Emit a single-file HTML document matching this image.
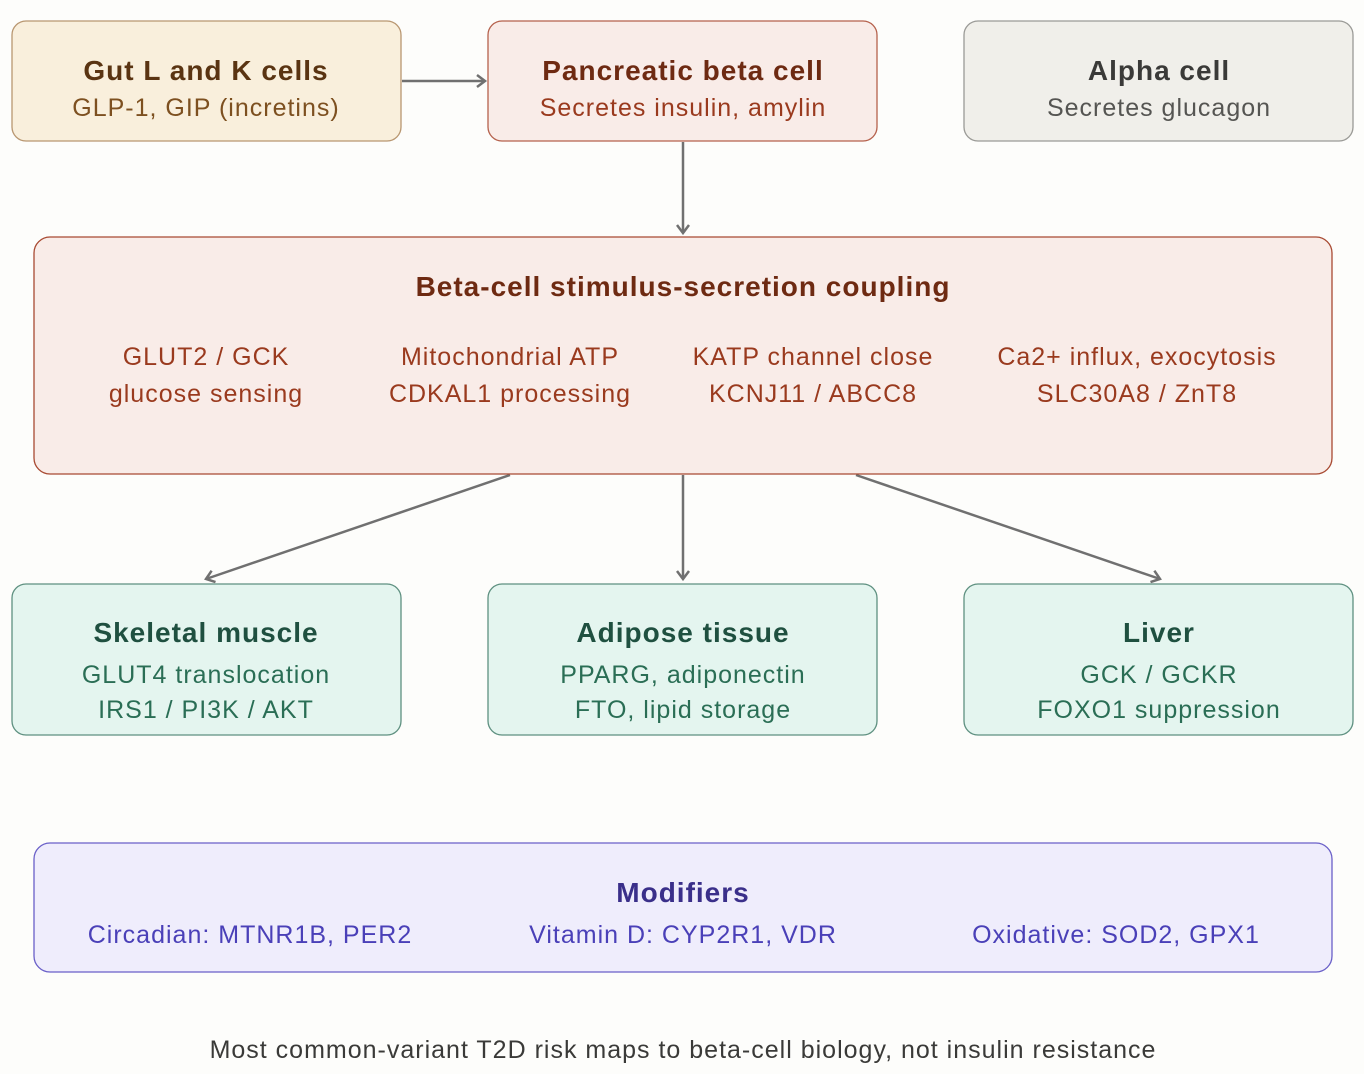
<!DOCTYPE html>
<html><head><meta charset="utf-8"><style>
html,body{margin:0;padding:0;background:#fdfdfb;}
svg{display:block;font-family:"Liberation Sans",sans-serif;}
.t{font-size:28px;font-weight:bold;text-anchor:middle;letter-spacing:1px}
.s{font-size:25px;text-anchor:middle;letter-spacing:1px}
</style></head><body>
<svg width="1364" height="1074" viewBox="0 0 1364 1074" xmlns="http://www.w3.org/2000/svg">
<defs><marker id="a" markerWidth="14" markerHeight="14" refX="10" refY="7" orient="auto" markerUnits="userSpaceOnUse"><path d="M2,1 L10,7 L2,13" fill="none" stroke="#707070" stroke-width="2.5"/></marker></defs>
<rect width="1364" height="1074" fill="#fdfdfb"/>
<rect x="12" y="21" width="389" height="120" rx="14" fill="#f9efdc" stroke="#b89670" stroke-width="1.3"/>
<text class="t" x="206" y="80" fill="#5a3412">Gut L and K cells</text>
<text class="s" x="206" y="116" fill="#7d5020">GLP-1, GIP (incretins)</text>
<rect x="488" y="21" width="389" height="120" rx="14" fill="#f9ece8" stroke="#b5614c" stroke-width="1.3"/>
<text class="t" x="683" y="80" fill="#6e2a12">Pancreatic beta cell</text>
<text class="s" x="683" y="116" fill="#9a3a1e">Secretes insulin, amylin</text>
<rect x="964" y="21" width="389" height="120" rx="14" fill="#f0efea" stroke="#9a9a96" stroke-width="1.3"/>
<text class="t" x="1159" y="80" fill="#3a3a38">Alpha cell</text>
<text class="s" x="1159" y="116" fill="#555552">Secretes glucagon</text>
<g stroke="#707070" stroke-width="2.5" fill="none">
<line x1="402" y1="81" x2="485" y2="81" marker-end="url(#a)"/>
<line x1="683" y1="142" x2="683" y2="233" marker-end="url(#a)"/>
<line x1="510" y1="475" x2="206" y2="579" marker-end="url(#a)"/>
<line x1="683" y1="475" x2="683" y2="579" marker-end="url(#a)"/>
<line x1="856" y1="475" x2="1160" y2="579" marker-end="url(#a)"/>
</g>
<rect x="34" y="237" width="1298" height="237" rx="16" fill="#f9ece8" stroke="#a84a32" stroke-width="1.3"/>
<text class="t" x="683" y="296" fill="#6e2a12">Beta-cell stimulus-secretion coupling</text>
<g fill="#9a3a1e">
<text class="s" x="206" y="365">GLUT2 / GCK</text><text class="s" x="206" y="402">glucose sensing</text>
<text class="s" x="510" y="365">Mitochondrial ATP</text><text class="s" x="510" y="402">CDKAL1 processing</text>
<text class="s" x="813" y="365">KATP channel close</text><text class="s" x="813" y="402">KCNJ11 / ABCC8</text>
<text class="s" x="1137" y="365">Ca2+ influx, exocytosis</text><text class="s" x="1137" y="402">SLC30A8 / ZnT8</text>
</g>
<g>
<rect x="12" y="584" width="389" height="151" rx="14" fill="#e4f5ef" stroke="#5e9080" stroke-width="1.3"/>
<rect x="488" y="584" width="389" height="151" rx="14" fill="#e4f5ef" stroke="#5e9080" stroke-width="1.3"/>
<rect x="964" y="584" width="389" height="151" rx="14" fill="#e4f5ef" stroke="#5e9080" stroke-width="1.3"/>
</g>
<g fill="#1f5040">
<text class="t" x="206" y="642">Skeletal muscle</text>
<text class="t" x="683" y="642">Adipose tissue</text>
<text class="t" x="1159" y="642">Liver</text>
</g>
<g fill="#2a6e55">
<text class="s" x="206" y="683">GLUT4 translocation</text><text class="s" x="206" y="718">IRS1 / PI3K / AKT</text>
<text class="s" x="683" y="683">PPARG, adiponectin</text><text class="s" x="683" y="718">FTO, lipid storage</text>
<text class="s" x="1159" y="683">GCK / GCKR</text><text class="s" x="1159" y="718">FOXO1 suppression</text>
</g>
<rect x="34" y="843" width="1298" height="129" rx="16" fill="#efedfc" stroke="#6a60c8" stroke-width="1.3"/>
<text class="t" x="683" y="902" fill="#3a2f8a">Modifiers</text>
<g fill="#4a40b8">
<text class="s" x="250" y="943">Circadian: MTNR1B, PER2</text>
<text class="s" x="683" y="943">Vitamin D: CYP2R1, VDR</text>
<text class="s" x="1116" y="943">Oxidative: SOD2, GPX1</text>
</g>
<text class="s" x="683" y="1058" fill="#3a3a38">Most common-variant T2D risk maps to beta-cell biology, not insulin resistance</text>
</svg>
</body></html>
